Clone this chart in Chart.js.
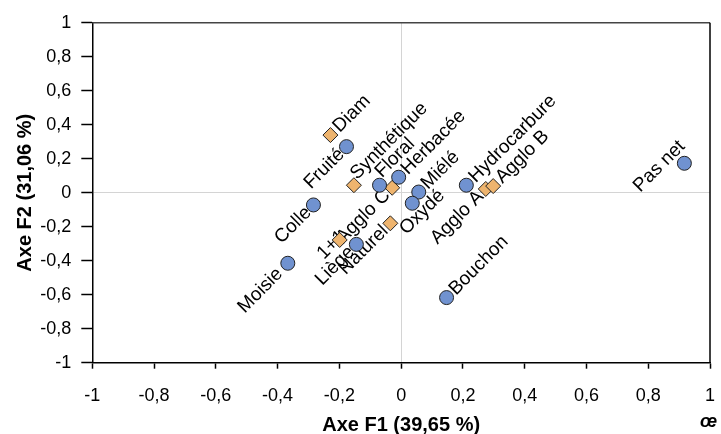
<!DOCTYPE html>
<html lang="fr">
<head>
    <meta charset="UTF-8">
    <title>Biplot F1 / F2</title>
    <script src="https://cdn.jsdelivr.net/npm/chart.js"></script>
    <style>
        html, body { margin: 0; padding: 0; background: #fff; overflow: hidden; }
        canvas { display: block; }
    </style>
</head>
<body>
    <canvas id="biplot" width="721" height="434"></canvas>

    <script>
        // variables (cercles bleus)
        const varNames = ['Fruité', 'Herbacée', 'Floral', 'Miélé', 'Oxydé', 'Colle', 'Liège', 'Moisie', 'Hydrocarbure', 'Pas net', 'Bouchon'];
        const varF1 = [-0.177, -0.008, -0.070, 0.057, 0.036, -0.284, -0.145, -0.367, 0.211, 0.917, 0.147];
        const varF2 = [0.271, 0.091, 0.044, 0.004, -0.062, -0.072, -0.304, -0.415, 0.044, 0.173, -0.617];

        // observations (losanges orange)
        const obsNames = ['Diam', 'Synthétique', 'Agglo C', 'Naturel', '1+1', 'Agglo A', 'Agglo B'];
        const obsF1 = [-0.229, -0.153, -0.029, -0.035, -0.199, 0.274, 0.298];
        const obsF2 = [0.339, 0.044, 0.029, -0.180, -0.278, 0.022, 0.039];

        // label placement: 'ur' upper-right, 'll' lower-left, 'c' centred; plus a small nudge in px
        const varSide = ['ll', 'ur', 'ur', 'ur', 'c', 'll', 'll', 'll', 'ur', 'c', 'ur'];
        const varNudge = [[0, 0], [0, 0], [-7, -5], [0, 0], [10, 9], [0, 0], [0, 0], [-3, 3], [0, 0], [-25, 3], [0, 0]];
        const obsSide = ['ur', 'ur', 'll', 'll', 'c', 'll', 'ur'];
        const obsNudge = [[0, 0], [-6, -3], [0, 0], [0, 0], [-8, 5], [0, 0], [0, 0]];

        const tickValues = [-1, -0.8, -0.6, -0.4, -0.2, 0, 0.2, 0.4, 0.6, 0.8, 1];
        const xTitle = 'Axe F1 (39,65 %)';
        const yTitle = 'Axe F2 (31,06 %)';

        const FONT = '"Liberation Sans", Arial, sans-serif';

        function toPoints(xs, ys) {
            return xs.map((x, i) => ({ x: x, y: ys[i] }));
        }

        function fmt(v) {
            return String(Math.round(v * 10) / 10).replace('.', ',');
        }

        const pointLabels = {
            id: 'pointLabels',
            beforeDatasetsDraw(chart) {
                const ctx = chart.ctx;
                ctx.save();
                ctx.font = '19px ' + FONT;
                ctx.fillStyle = '#000';
                ctx.textBaseline = 'middle';
                chart.data.datasets.forEach((ds, di) => {
                    const meta = chart.getDatasetMeta(di);
                    meta.data.forEach((pt, i) => {
                        const side = ds.sides[i];
                        const n = ds.nudge[i];
                        ctx.save();
                        ctx.translate(pt.x + n[0], pt.y + n[1]);
                        ctx.rotate(-Math.PI / 4);
                        if (side === 'ur') {
                            ctx.textAlign = 'left';
                            ctx.fillText(ds.names[i], 8, 0);
                        } else if (side === 'll') {
                            ctx.textAlign = 'right';
                            ctx.fillText(ds.names[i], -7, 0);
                        } else {
                            ctx.textAlign = 'center';
                            ctx.fillText(ds.names[i], 0, 0);
                        }
                        ctx.restore();
                    });
                });
                ctx.restore();
            },
            afterDraw(chart) {
                const ctx = chart.ctx;
                const a = chart.chartArea;
                ctx.save();
                ctx.lineWidth = 1.5;
                ctx.strokeStyle = '#444';
                ctx.beginPath();
                ctx.moveTo(a.left, a.top);
                ctx.lineTo(a.right, a.top);
                ctx.stroke();
                ctx.strokeStyle = '#000';
                ctx.beginPath();
                ctx.moveTo(a.right, a.top);
                ctx.lineTo(a.right, a.bottom);
                ctx.stroke();
                // bout de logo coupé en bas à droite
                ctx.font = 'italic bold 18px ' + FONT;
                ctx.fillStyle = '#000';
                ctx.textBaseline = 'middle';
                ctx.fillText('œ', 700, 422);
                ctx.restore();
            }
        };

        const ctx = document.getElementById('biplot').getContext('2d');
        const chart = new Chart(ctx, {
            type: 'scatter',
            data: {
                datasets: [{
                    label: 'Variables',
                    names: varNames,
                    sides: varSide,
                    nudge: varNudge,
                    data: toPoints(varF1, varF2),
                    pointStyle: 'circle',
                    pointRadius: 7,
                    pointHoverRadius: 7,
                    backgroundColor: '#7092d0',
                    borderColor: '#222',
                    borderWidth: 1
                }, {
                    label: 'Observations',
                    names: obsNames,
                    sides: obsSide,
                    nudge: obsNudge,
                    data: toPoints(obsF1, obsF2),
                    pointStyle: 'rectRot',
                    pointRadius: 7.5,
                    pointHoverRadius: 7.5,
                    backgroundColor: '#eeb46e',
                    borderColor: '#222',
                    borderWidth: 1
                }]
            },
            options: {
                responsive: false,
                animation: false,
                devicePixelRatio: 1,
                layout: { padding: { top: 22.7, right: 11, left: 0, bottom: 0 } },
                plugins: {
                    legend: { display: false },
                    tooltip: { enabled: false }
                },
                scales: {
                    x: {
                        type: 'linear',
                        min: -1,
                        max: 1,
                        afterBuildTicks: s => { s.ticks = tickValues.map(v => ({ value: v })); },
                        afterFit: s => { s.height = 71.3; },
                        border: { color: '#000', width: 1.5 },
                        grid: {
                            color: c => (c.tick && c.tick.value === 0) ? '#d4d4d4' : 'rgba(0,0,0,0)',
                            lineWidth: 1,
                            tickColor: '#000',
                            tickWidth: 1.5,
                            tickLength: 6
                        },
                        ticks: {
                            color: '#000',
                            // tall line box pushes the labels down without widening the side padding
                            font: { family: FONT, size: 18, lineHeight: 2.5 },
                            padding: 5,
                            maxRotation: 0,
                            autoSkip: false,
                            callback: v => fmt(v)
                        },
                        title: {
                            display: true,
                            text: xTitle,
                            color: '#000',
                            font: { family: FONT, size: 20, weight: 'bold' },
                            padding: { top: 0, bottom: -3 }
                        }
                    },
                    y: {
                        type: 'linear',
                        min: -1,
                        max: 1,
                        afterBuildTicks: s => { s.ticks = tickValues.map(v => ({ value: v })); },
                        afterFit: s => { s.width = 92.3; },
                        border: { color: '#000', width: 1.5 },
                        grid: {
                            color: c => (c.tick && c.tick.value === 0) ? '#d4d4d4' : 'rgba(0,0,0,0)',
                            lineWidth: 1,
                            tickColor: '#000',
                            tickWidth: 1.5,
                            tickLength: 11
                        },
                        ticks: {
                            color: '#000',
                            font: { family: FONT, size: 18 },
                            padding: 10,
                            autoSkip: false,
                            callback: v => fmt(v)
                        },
                        title: {
                            display: true,
                            text: yTitle,
                            color: '#000',
                            font: { family: FONT, size: 20, weight: 'bold' },
                            padding: { top: 13, bottom: 0 }
                        }
                    }
                }
            },
            plugins: [pointLabels]
        });
    </script>
</body>
</html>
